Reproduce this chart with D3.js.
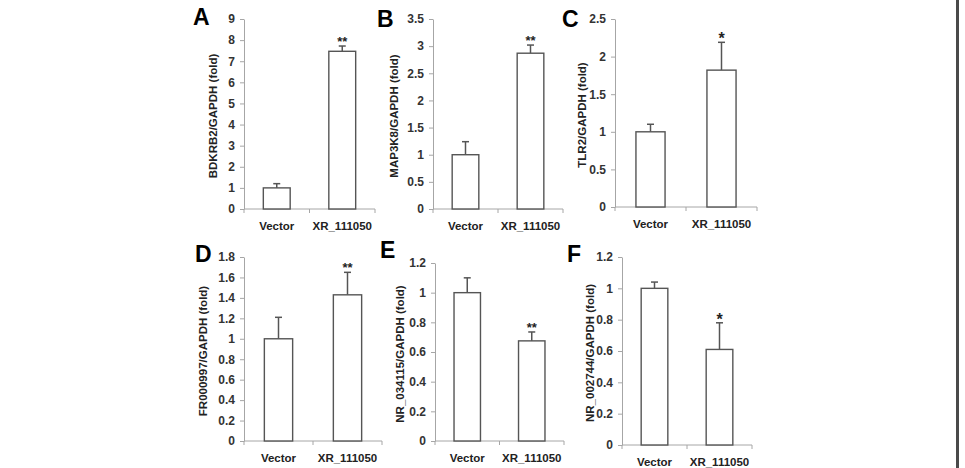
<!DOCTYPE html>
<html>
<head>
<meta charset="utf-8">
<script src="https://cdn.jsdelivr.net/npm/d3@7"></script>
<style>
  html, body { margin: 0; padding: 0; background: #fff; }
  svg { display: block; font-family: "Liberation Sans", Arial, sans-serif; }
</style>
</head>
<body>
<div id="chart"></div>
<script>
// six qPCR panels: fold change vs GAPDH, Vector vs XR_111050

const groups = ["Vector", "XR_111050"];

const panelLetters = ["A", "B", "C", "D", "E", "F"];
const yTitles = [
  "BDKRB2/GAPDH (fold)",
  "MAP3K8/GAPDH (fold)",
  "TLR2/GAPDH (fold)",
  "FR000997/GAPDH (fold)",
  "NR_034115/GAPDH (fold)",
  "NR_002744/GAPDH (fold)"
];

const meanValues = [
  [1.0, 7.47],
  [1.0, 2.87],
  [1.0, 1.82],
  [1.0, 1.43],
  [1.0, 0.675],
  [1.0, 0.61]
];

const errorValues = [
  [0.2, 0.25],
  [0.24, 0.15],
  [0.1, 0.37],
  [0.21, 0.22],
  [0.1, 0.06],
  [0.04, 0.17]
];

const stars = ["**", "**", "*", "**", "**", "*"];

const yTicks = [
  [0, 1, 2, 3, 4, 5, 6, 7, 8, 9],
  [0, 0.5, 1, 1.5, 2, 2.5, 3, 3.5],
  [0, 0.5, 1, 1.5, 2, 2.5],
  [0, 0.2, 0.4, 0.6, 0.8, 1, 1.2, 1.4, 1.6, 1.8],
  [0, 0.2, 0.4, 0.6, 0.8, 1, 1.2],
  [0, 0.2, 0.4, 0.6, 0.8, 1, 1.2]
];

// where each panel sits in the 965x468 figure
const layout = [
  { x0: 244, x1: 375, top: 19, zero: 209, lx: 193, ly: 25, tx: 213 },
  { x0: 433, x1: 563, top: 19, zero: 209, lx: 377, ly: 27, tx: 394 },
  { x0: 615, x1: 757, top: 19, zero: 207, lx: 562, ly: 27, tx: 582 },
  { x0: 244, x1: 382, top: 257, zero: 441, lx: 195, ly: 262, tx: 203 },
  { x0: 435, x1: 564, top: 263, zero: 441, lx: 380, ly: 258, tx: 400 },
  { x0: 622, x1: 752, top: 257, zero: 445, lx: 567, ly: 262, tx: 590 }
];

function drawPanel(svg, i) {
  const L = layout[i];
  const ticks = yTicks[i];

  const x = d3.scaleBand()
    .domain(groups)
    .range([L.x0, L.x1])
    .padding(0);

  const y = d3.scaleLinear()
    .domain([0, d3.max(ticks)])
    .range([L.zero, L.top]);

  const g = svg.append("g");

  // y axis
  const yAxis = g.append("g")
    .attr("transform", "translate(" + L.x0 + ",0)")
    .call(d3.axisLeft(y)
      .tickValues(ticks)
      .tickSize(4)
      .tickSizeOuter(0)
      .tickPadding(5)
      .tickFormat(d3.format("~g")));
  yAxis.select(".domain").attr("stroke", "#a6a6a6");
  yAxis.selectAll(".tick line").attr("stroke", "#a6a6a6");
  yAxis.selectAll(".tick text")
    .attr("font-size", 12)
    .attr("font-weight", "bold")
    .attr("fill", "#333")
    .attr("font-family", "'Liberation Sans', Arial, sans-serif");

  // x axis with ticks at category boundaries
  g.append("line")
    .attr("x1", L.x0).attr("x2", L.x1)
    .attr("y1", y(0)).attr("y2", y(0))
    .attr("stroke", "#a6a6a6");

  g.selectAll("line.xtick")
    .data([L.x0].concat(groups.map(function(d) { return x(d) + x.bandwidth(); })))
    .join("line")
    .attr("class", "xtick")
    .attr("x1", function(d) { return d; })
    .attr("x2", function(d) { return d; })
    .attr("y1", y(0))
    .attr("y2", y(0) + 4)
    .attr("stroke", "#a6a6a6");

  g.selectAll("text.xlabel")
    .data(groups)
    .join("text")
    .attr("class", "xlabel")
    .attr("x", function(d) { return x(d) + x.bandwidth() / 2; })
    .attr("y", y(0) + 21)
    .attr("text-anchor", "middle")
    .attr("font-size", 11.5)
    .attr("font-weight", "bold")
    .attr("fill", "#222")
    .text(function(d) { return d; });

  const rows = groups.map(function(name, j) {
    return { name: name, value: meanValues[i][j], err: errorValues[i][j] };
  });

  const barW = x.bandwidth() * 0.41;

  // error bars (upper only) drawn first so bars sit on top
  g.selectAll("line.err")
    .data(rows)
    .join("line")
    .attr("class", "err")
    .attr("x1", function(d) { return x(d.name) + x.bandwidth() / 2; })
    .attr("x2", function(d) { return x(d.name) + x.bandwidth() / 2; })
    .attr("y1", function(d) { return y(d.value); })
    .attr("y2", function(d) { return y(d.value + d.err); })
    .attr("stroke", "#555")
    .attr("stroke-width", 1.5);

  g.selectAll("line.cap")
    .data(rows)
    .join("line")
    .attr("class", "cap")
    .attr("x1", function(d) { return x(d.name) + x.bandwidth() / 2 - 3.5; })
    .attr("x2", function(d) { return x(d.name) + x.bandwidth() / 2 + 3.5; })
    .attr("y1", function(d) { return y(d.value + d.err); })
    .attr("y2", function(d) { return y(d.value + d.err); })
    .attr("stroke", "#555")
    .attr("stroke-width", 1.5);

  g.selectAll("rect.bar")
    .data(rows)
    .join("rect")
    .attr("class", "bar")
    .attr("x", function(d) { return x(d.name) + (x.bandwidth() - barW) / 2; })
    .attr("y", function(d) { return y(d.value); })
    .attr("width", barW)
    .attr("height", function(d) { return y(0) - y(d.value); })
    .attr("fill", "#fff")
    .attr("stroke", "#555")
    .attr("stroke-width", 1.4);

  // significance marks over the second group
  const last = rows[1];
  g.append("text")
    .attr("x", x(last.name) + x.bandwidth() / 2)
    .attr("y", y(last.value + last.err) + (stars[i] === "*" ? 2 : 0))
    .attr("text-anchor", "middle")
    .attr("font-size", stars[i] === "*" ? 16 : 13)
    .attr("font-weight", "bold")
    .attr("fill", "#222")
    .text(stars[i]);

  // axis title
  g.append("text")
    .attr("transform", "translate(" + L.tx + "," + ((L.top + L.zero) / 2 + 2) + ") rotate(-90)")
    .attr("text-anchor", "middle")
    .attr("dominant-baseline", "central")
    .attr("font-size", 11.5)
    .attr("font-weight", "bold")
    .attr("fill", "#222")
    .text(yTitles[i]);

  // panel letter
  g.append("text")
    .attr("x", L.lx)
    .attr("y", L.ly)
    .attr("font-size", 23)
    .attr("font-weight", "bold")
    .attr("fill", "#000")
    .text(panelLetters[i]);
}

function initFigure() {
  const width = 965;
  const height = 468;

  const svg = d3.select("#chart")
    .append("svg")
    .attr("width", width)
    .attr("height", height)
    .attr("viewBox", [0, 0, width, height]);

  svg.append("rect")
    .attr("width", width)
    .attr("height", height)
    .attr("fill", "#fff");

  panelLetters.forEach(function(d, i) { drawPanel(svg, i); });

  // dark edge on the right of the figure
  svg.append("rect")
    .attr("x", 956)
    .attr("y", 0)
    .attr("width", 3)
    .attr("height", height)
    .attr("fill", "#4a4a4a");
}

initFigure();
</script>
</body>
</html>
